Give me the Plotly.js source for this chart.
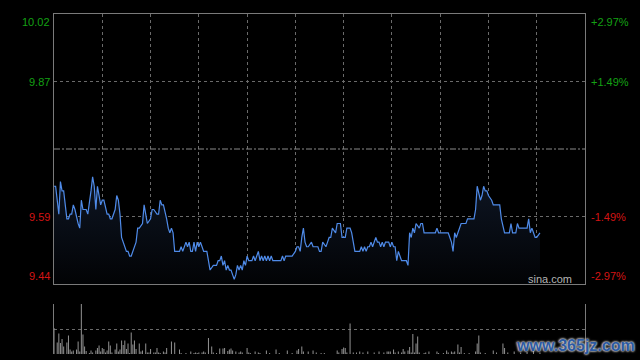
<!DOCTYPE html>
<html>
<head>
<meta charset="utf-8">
<script src="https://cdn.plot.ly/plotly-3.0.1.min.js"></script>
<style>
  html, body { margin: 0; padding: 0; background: #000; }
  #chart { width: 640px; height: 360px; }
</style>
</head>
<body>
<div id="chart"></div>
<script>
// ---- data (HK intraday, minutes since 09:30, 330-minute session) ----
const minutes = [0,1,3,4,5,6,8,9,10,11,12,13,15,16,17,18,20,21,23,24,25,26,27,28,29,30,31,33,34,35,36,38,39,40,41,42,43,45,46,47,48,50,51,52,53,55,56,57,58,60,61,62,64,65,66,67,68,70,71,72,73,74,75,76,78,79,80,82,83,84,85,86,87,88,89,90,91,92,93,95,96,97,99,100,101,102,103,104,105,106,107,108,109,110,111,112,113,114,115,116,117,118,119,120,121,122,123,124,125,126,127,128,129,130,131,132,133,134,135,136,141,142,143,144,148,150,151,152,153,154,155,156,157,158,160,161,163,164,165,166,167,169,170,171,172,173,175,176,178,179,181,182,184,185,186,187,190,191,192,193,194,195,196,197,198,200,201,202,203,204,205,206,208,209,210,211,212,213,214,215,216,218,219,220,221,222,223,224,225,227,228,229,230,237,238,239,245,246,247,248,249,250,251,253,256,257,261,262,263,265,266,267,268,269,270,272,273,277,278,280,283,284,285,287,288,289,294,295,296,297,298,299,300,302];
const prices = [9.65,9.65,9.59,9.66,9.64,9.64,9.58,9.58,9.59,9.59,9.61,9.60,9.57,9.56,9.62,9.60,9.60,9.59,9.64,9.67,9.65,9.60,9.65,9.63,9.61,9.62,9.62,9.59,9.59,9.58,9.58,9.60,9.63,9.62,9.59,9.54,9.53,9.51,9.51,9.50,9.50,9.52,9.53,9.56,9.56,9.57,9.61,9.59,9.57,9.58,9.60,9.60,9.59,9.59,9.62,9.61,9.61,9.58,9.56,9.55,9.56,9.55,9.51,9.51,9.51,9.52,9.51,9.53,9.52,9.53,9.51,9.51,9.53,9.51,9.53,9.52,9.53,9.52,9.51,9.51,9.49,9.47,9.48,9.48,9.48,9.49,9.49,9.50,9.48,9.49,9.47,9.48,9.47,9.47,9.46,9.45,9.46,9.48,9.47,9.48,9.47,9.49,9.48,9.50,9.49,9.49,9.49,9.50,9.49,9.50,9.51,9.49,9.50,9.49,9.50,9.49,9.50,9.49,9.50,9.49,9.49,9.50,9.49,9.50,9.50,9.51,9.52,9.52,9.51,9.54,9.56,9.53,9.52,9.52,9.53,9.52,9.52,9.52,9.51,9.51,9.53,9.52,9.53,9.54,9.54,9.56,9.55,9.57,9.57,9.54,9.54,9.56,9.56,9.55,9.53,9.51,9.51,9.52,9.51,9.52,9.51,9.52,9.52,9.53,9.52,9.54,9.53,9.53,9.52,9.53,9.52,9.53,9.53,9.52,9.53,9.52,9.52,9.49,9.51,9.50,9.49,9.49,9.49,9.48,9.55,9.54,9.56,9.55,9.57,9.56,9.57,9.57,9.55,9.55,9.56,9.55,9.55,9.54,9.53,9.51,9.55,9.54,9.55,9.57,9.57,9.58,9.58,9.60,9.65,9.62,9.63,9.65,9.64,9.64,9.63,9.62,9.61,9.61,9.58,9.55,9.55,9.57,9.55,9.55,9.57,9.56,9.56,9.58,9.55,9.56,9.55,9.54,9.54,9.55];

const volMinutes = [0,2,3,4,5,6,8,9,10,11,12,14,15,16,17,18,19,20,22,23,24,26,27,28,29,30,31,32,33,34,35,36,38,39,40,41,42,43,44,45,46,47,48,49,50,51,53,54,55,57,58,59,60,62,63,64,65,66,68,69,70,73,75,78,79,82,85,87,88,89,90,92,93,94,96,98,99,101,103,105,106,108,109,110,111,113,115,116,117,120,121,122,125,127,128,132,134,138,140,145,148,151,152,154,155,158,161,163,166,168,176,177,179,180,181,182,184,186,188,190,192,195,199,202,205,207,208,209,211,212,214,216,217,218,220,221,222,223,224,225,226,227,230,231,233,238,239,242,244,245,247,248,249,251,252,253,255,258,262,263,264,265,268,273,275,279,280,282,286,290,294,298,302];
const volumes = [52,23,41,22,30,15,23,37,9,5,7,9,25,5,140,39,15,6,2,7,3,7,12,17,5,12,10,3,7,25,17,3,9,21,5,9,27,18,27,10,21,2,43,19,27,10,21,5,7,21,3,3,10,3,3,12,3,2,5,3,12,25,23,9,2,2,5,2,3,2,3,3,5,3,32,15,3,2,11,11,12,6,9,11,7,5,3,5,3,12,3,2,5,3,2,7,2,9,2,7,2,7,10,15,5,5,7,3,2,2,7,3,10,13,12,3,61,3,3,5,3,5,3,5,3,5,5,5,9,3,5,3,10,5,7,14,3,40,3,21,35,3,2,3,5,5,2,2,7,3,5,3,5,19,3,14,2,2,5,21,37,3,2,7,3,21,12,3,5,3,4,6,3];

const priceMin = 9.44, priceMax = 10.02, prevClose = 9.73;
const gridPrices = [9.585, 9.875];
const labelPrices = [10.02, 9.875, 9.585, 9.44];
const leftLabels = ['10.02', '9.87', '9.59', '9.44'];
const rightLabels = ['+2.97%', '+1.49%', '-1.49%', '-2.97%'];
const sessionMinutes = 330;

// ---- styles ----
const GREEN = '#14a014', RED = '#d41414';
const GRID = '#6a6a6a', BORDER = '#7a7a7a';
const FONT = 'Liberation Sans, Arial, sans-serif';

const lineTrace = {
  type: 'scatter', mode: 'lines', x: minutes, y: prices,
  xaxis: 'x', yaxis: 'y',
  line: { color: '#4f8be9', width: 1.2 },
  fill: 'tozeroy',
  fillgradient: { type: 'vertical', start: priceMin, stop: 9.67,
    colorscale: [[0, 'rgb(2,3,5)'], [1, 'rgb(14,22,36)']] },
  hoverinfo: 'skip'
};
const volTrace = {
  type: 'bar', x: volMinutes, y: volumes, xaxis: 'x2', yaxis: 'y2',
  marker: { color: '#8c8c8c', line: { width: 0 } }, width: 0.65,
  hoverinfo: 'skip'
};

const annotations = [];
labelPrices.forEach((p, i) => {
  const col = p > prevClose ? GREEN : RED;
  const ya = i === 0 ? 'top' : (i === labelPrices.length - 1 ? 'bottom' : 'middle');
  annotations.push({ xref: 'paper', yref: 'y', x: 0, y: p, xanchor: 'right', yanchor: ya,
    xshift: -2, text: leftLabels[i], showarrow: false, font: { family: FONT, size: 11, color: col } });
  annotations.push({ xref: 'paper', yref: 'y', x: 1, y: p, xanchor: 'left', yanchor: ya,
    xshift: 4, text: rightLabels[i], showarrow: false, font: { family: FONT, size: 11, color: col } });
});
annotations.push({ xref: 'x domain', yref: 'y domain', x: 0.979, y: 0.02, xanchor: 'right', yanchor: 'middle',
  text: 'sina.com', showarrow: false, font: { family: FONT, size: 11, color: '#b4b4b4' } });
annotations.push({ xref: 'paper', yref: 'paper', x: 0.982, y: 0.026, xanchor: 'center', yanchor: 'middle',
  text: '<b>www.365jz.com</b>', showarrow: false,
  font: { family: FONT, size: 16, color: '#2c5aa2', shadow: '0 0 2px #d8d8d8, 0 0 2px #d8d8d8, 0 0 3px #bbbbbb' } });

const layout = {
  width: 640, height: 360,
  paper_bgcolor: '#000', plot_bgcolor: '#000',
  margin: { l: 54, r: 55, t: 14, b: 6 },
  showlegend: false, hovermode: false,
  xaxis: { domain: [0, 1], anchor: 'y', range: [0, sessionMinutes], tick0: 0, dtick: 30,
    showticklabels: false, ticks: '', showgrid: true, gridcolor: GRID, griddash: 'dot', gridwidth: 1,
    showline: true, linecolor: BORDER, linewidth: 1, mirror: true, zeroline: false },
  yaxis: { domain: [0.2059, 1], anchor: 'x', range: [priceMin, priceMax], tickvals: gridPrices,
    showticklabels: false, ticks: '', showgrid: true, gridcolor: GRID, griddash: 'dot',
    showline: true, linecolor: BORDER, linewidth: 1, mirror: true, zeroline: false },
  xaxis2: { domain: [0, 1], anchor: 'y2', range: [0, sessionMinutes], showticklabels: false,
    showgrid: false, showline: false, zeroline: false, ticks: '' },
  yaxis2: { domain: [0, 0.147], anchor: 'x2', range: [0, 100], tickvals: [50, 100],
    showticklabels: false, ticks: '', showgrid: true, gridcolor: GRID, griddash: 'dot',
    showline: true, linecolor: BORDER, linewidth: 1, mirror: true, zeroline: false },
  shapes: [{ type: 'line', xref: 'paper', yref: 'y', x0: 0, x1: 1, y0: prevClose, y1: prevClose,
    line: { color: '#8a8a8a', width: 1, dash: '6px,2px,2px,2px' } }],
  annotations: annotations
};

Plotly.newPlot('chart', [lineTrace, volTrace], layout, { staticPlot: true, displayModeBar: false });
</script>
</body>
</html>
